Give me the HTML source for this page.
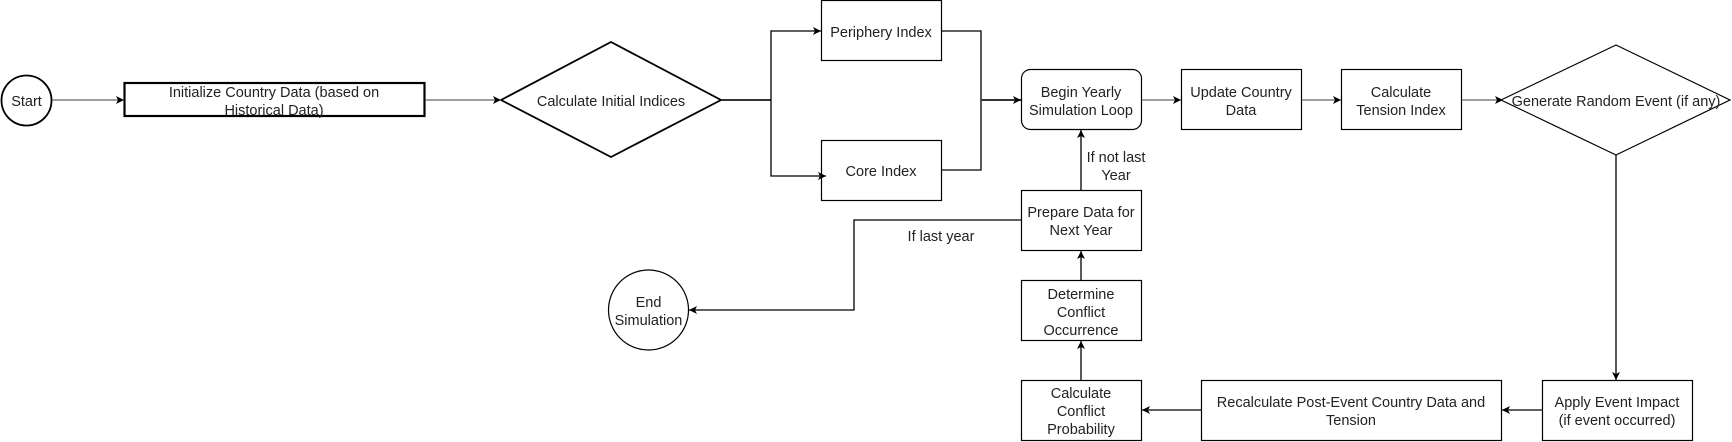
<!DOCTYPE html>
<html><head><meta charset="utf-8"><style>
html,body{margin:0;padding:0;background:#fff;}
svg{display:block;}
text{font-family:"Liberation Sans","DejaVu Sans",sans-serif;font-size:14.5px;fill:#222;}
</style></head><body>
<svg width="1732" height="442" viewBox="0 0 1732 442" xmlns="http://www.w3.org/2000/svg">
<defs>
<marker id="a" markerWidth="10" markerHeight="10" refX="9" refY="5" orient="auto" markerUnits="userSpaceOnUse">
<path d="M1,1 L9,5 L1,9 L3,5 Z" fill="#000"/>
</marker>
</defs>
<g fill="none" stroke="#000" stroke-width="1.2">
<!-- nodes -->
<circle cx="26.5" cy="100.5" r="25" stroke-width="1.8"/>
<rect x="124.5" y="83" width="300" height="33" stroke-width="2.2"/>
<polygon points="501,100 611,42 721,100 611,157" stroke-width="1.8"/>
<rect x="821.5" y="0.5" width="120" height="60"/>
<rect x="821.5" y="140.5" width="120" height="60"/>
<rect x="1021.5" y="69.5" width="120" height="60" rx="9"/>
<rect x="1181.5" y="69.5" width="120" height="60"/>
<rect x="1341.5" y="69.5" width="120" height="60"/>
<polygon points="1501,100 1616,45 1730,100 1616,155"/>
<rect x="1542.5" y="380.5" width="150" height="60"/>
<rect x="1201.5" y="380.5" width="300" height="60"/>
<rect x="1021.5" y="380.5" width="120" height="60"/>
<rect x="1021.5" y="280.5" width="120" height="60"/>
<rect x="1021.5" y="190.5" width="120" height="60"/>
<circle cx="648.5" cy="310" r="40"/>
</g>
<g fill="none" stroke-width="1.3">
<path d="M52 100 H124" stroke="#666" marker-end="url(#a)"/>
<path d="M425 100 H501" stroke="#666" marker-end="url(#a)"/>
<path d="M721 100 H771" stroke="#333" stroke-width="2"/>
<path d="M771 100 V31 H821" stroke="#000" marker-end="url(#a)"/>
<path d="M771 100 V176 H826" stroke="#000" marker-end="url(#a)"/>
<path d="M941 31 H981 V100" stroke="#000"/>
<path d="M941 170 H981 V100" stroke="#000"/>
<path d="M981 100 H1021" stroke="#333" stroke-width="2" marker-end="url(#a)"/>
<path d="M1142 100 H1181" stroke="#666" marker-end="url(#a)"/>
<path d="M1302 100 H1341" stroke="#666" marker-end="url(#a)"/>
<path d="M1462 100 H1503" stroke="#666" marker-end="url(#a)"/>
<path d="M1616 155 V380" stroke="#000" marker-end="url(#a)"/>
<path d="M1542 410 H1502" stroke="#000" marker-end="url(#a)"/>
<path d="M1201 410 H1142" stroke="#000" marker-end="url(#a)"/>
<path d="M1081 380 V341" stroke="#000" marker-end="url(#a)"/>
<path d="M1081 280 V251" stroke="#000" marker-end="url(#a)"/>
<path d="M1081 190 V130" stroke="#000" marker-end="url(#a)"/>
<path d="M1021 220 H854 V310 H689" stroke="#000" marker-end="url(#a)"/>
</g>
<g text-anchor="middle">
<text x="26.5" y="106">Start</text>
<text x="274" y="97">Initialize Country Data (based on</text>
<text x="274" y="115">Historical Data)</text>
<text x="611" y="106">Calculate Initial Indices</text>
<text x="881" y="37">Periphery Index</text>
<text x="881" y="176">Core Index</text>
<text x="1081" y="97">Begin Yearly</text>
<text x="1081" y="115">Simulation Loop</text>
<text x="1241" y="97">Update Country</text>
<text x="1241" y="115">Data</text>
<text x="1401" y="97">Calculate</text>
<text x="1401" y="115">Tension Index</text>
<text x="1616" y="106">Generate Random Event (if any)</text>
<text x="1617" y="407">Apply Event Impact</text>
<text x="1617" y="425">(if event occurred)</text>
<text x="1351" y="407">Recalculate Post-Event Country Data and</text>
<text x="1351" y="425">Tension</text>
<text x="1081" y="398">Calculate</text>
<text x="1081" y="416">Conflict</text>
<text x="1081" y="434">Probability</text>
<text x="1081" y="299">Determine</text>
<text x="1081" y="317">Conflict</text>
<text x="1081" y="335">Occurrence</text>
<text x="1081" y="217">Prepare Data for</text>
<text x="1081" y="235">Next Year</text>
<text x="648.5" y="307">End</text>
<text x="648.5" y="325">Simulation</text>
<text x="941" y="241">If last year</text>
<text x="1116" y="162">If not last</text>
<text x="1116" y="180">Year</text>
</g>
</svg>
</body></html>
